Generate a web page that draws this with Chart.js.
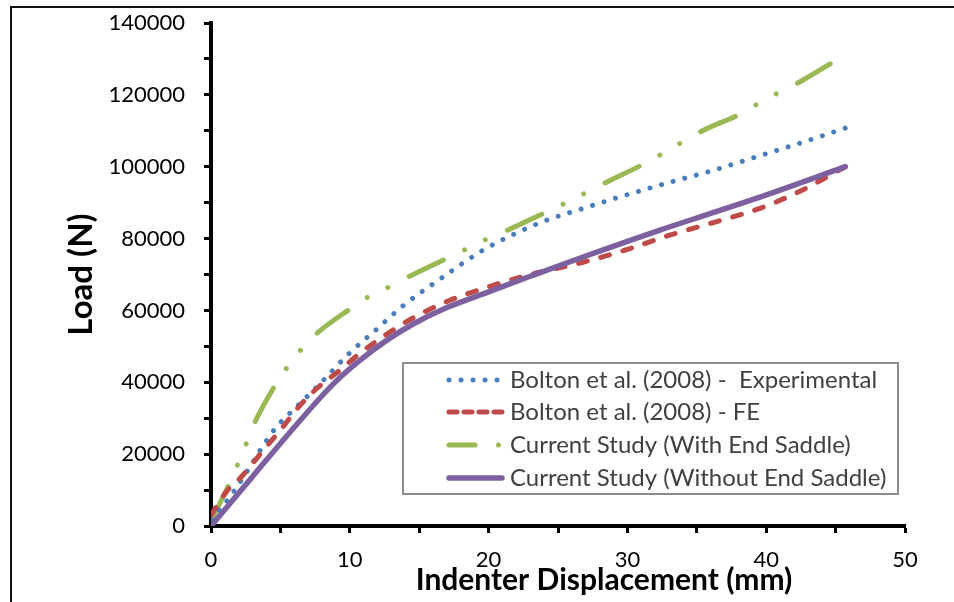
<!DOCTYPE html>
<html>
<head>
<meta charset="utf-8">
<script src="https://cdn.jsdelivr.net/npm/chart.js@4.4.0/dist/chart.umd.min.js"></script>
<style>
  html, body { margin: 0; padding: 0; background: #fff; }
  #wrap { width: 954px; height: 602px; }
</style>
</head>
<body>
<div id="wrap"><canvas id="myChart" width="954" height="602"></canvas></div>
<script>
// Series (x = mm, y = N)
var seriesNames = [
    "Bolton et al. (2008) -  Experimental",
    "Bolton et al. (2008) - FE",
    "Current Study (With End Saddle)",
    "Current Study (Without End Saddle)"
];

var expX = [0, 0.9, 1.9, 2.8, 3.7, 4.7, 6.2, 7.7, 10, 12, 13.8, 16.6, 19.4, 21.7, 24.1, 26.5, 28.7, 32.9, 36.2, 39.5, 42.7, 45.9];
var expY = [2000, 5800, 11100, 16400, 22000, 27500, 33300, 39000, 48200, 55000, 61200, 69000, 76300, 81000, 85000, 88000, 90700, 95500, 99000, 103000, 106900, 111000];

var feX = [0, 1.2, 2.1, 3.5, 5.1, 6.4, 7.6, 9.3, 10.7, 12.7, 14.6, 17, 20.1, 23, 26.6, 30, 33.1, 36.5, 39.6, 42.5, 45.7];
var feY = [3000, 10000, 13300, 19800, 27200, 33500, 38200, 43400, 48000, 53500, 58000, 62500, 66700, 70000, 73200, 77000, 81000, 84800, 88500, 93300, 100000];

var saddleX = [0, 1.2, 2.5, 3.1, 4.5, 5.4, 6.4, 7.6, 9.9, 11.3, 12.8, 14.2, 16.9, 18.4, 19.9, 21.4, 24, 25.6, 28.5, 31.3, 32.6, 35.4, 38.3, 39.6, 42.6, 45.2];
var saddleY = [1500, 10800, 22500, 28400, 38400, 43700, 48700, 53500, 60100, 63700, 66500, 69300, 74300, 77100, 79900, 82400, 87100, 90000, 95700, 101000, 103800, 110000, 115000, 118000, 124000, 130000];

var noSaddleX = [0, 3, 6, 8.8, 10.7, 12.7, 14.6, 17, 20.1, 23, 26.6, 32.3, 36, 39.6, 45.7];
var noSaddleY = [0, 13800, 27500, 39500, 46000, 51800, 56300, 60800, 65300, 69500, 74600, 82300, 87000, 91600, 100000];

var xTickValues = [0, 10, 20, 30, 40, 50];
var yTickValues = [0, 20000, 40000, 60000, 80000, 100000, 120000, 140000];

function toPoints(xs, ys) {
    var pts = [];
    for (var i = 0; i < xs.length; i++) {
        pts.push({ x: xs[i], y: ys[i] });
    }
    return pts;
}

var FONT = "Lato, 'Open Sans', 'Liberation Sans', sans-serif";

// left and top frame lines of the original figure
var framePlugin = {
    id: "frame",
    beforeDraw: function(chart) {
        var c = chart.ctx;
        c.save();
        c.fillStyle = "#fff";
        c.fillRect(0, 0, chart.width, chart.height);
        c.strokeStyle = "#111";
        c.lineWidth = 2;
        c.beginPath();
        c.moveTo(11, chart.height);
        c.lineTo(11, 7);
        c.lineTo(chart.width, 7);
        c.stroke();
        c.restore();
    }
};

// x axis title sits off-centre in the original, so it is drawn here
var xTitlePlugin = {
    id: "xTitle",
    afterDraw: function(chart) {
        var c = chart.ctx;
        c.save();
        c.font = "bold 30px " + FONT;
        c.fillStyle = "#000";
        c.textAlign = "center";
        c.textBaseline = "middle";
        c.fillText("Indenter Displacement (mm)", 604, 580);
        c.restore();
    }
};

// boxed legend inside the plot, with line samples
var legendPlugin = {
    id: "boxLegend",
    afterDatasetsDraw: function(chart) {
        var c = chart.ctx;
        var bx = 403, by = 363, bw = 495, bh = 131;
        c.save();
        c.fillStyle = "#fff";
        c.fillRect(bx, by, bw, bh);
        c.strokeStyle = "#8c8c8c";
        c.lineWidth = 2;
        c.strokeRect(bx, by, bw, bh);

        var rows = [380, 412, 445, 478];
        chart.data.datasets.forEach(function(ds, i) {
            var y = rows[i];
            c.save();
            c.strokeStyle = ds.borderColor;
            c.lineWidth = ds.borderWidth;
            c.lineCap = ds.borderCapStyle || "butt";
            c.setLineDash(ds.legendDash || ds.borderDash || []);
            c.lineDashOffset = ds.legendDashOffset || 0;
            c.beginPath();
            c.moveTo(449, y);
            c.lineTo(502, y);
            c.stroke();
            c.restore();

            c.font = "24px " + FONT;
            c.fillStyle = "#404040";
            c.textAlign = "left";
            c.textBaseline = "middle";
            c.fillText(ds.label, 510, y);
        });
        c.restore();
    }
};

var ctx = document.getElementById("myChart").getContext("2d");
var chart = new Chart(ctx, {
    type: "scatter",
    data: {
        datasets: [{
            label: seriesNames[0],
            data: toPoints(expX, expY),
            borderColor: "#4a7ebb",
            borderWidth: 5,
            borderDash: [0.01, 12],
            borderCapStyle: "round",
            order: 2
        }, {
            label: seriesNames[1],
            data: toPoints(feX, feY),
            borderColor: "#be4b48",
            borderWidth: 5,
            borderDash: [9, 14],
            legendDash: [8, 7],
            borderCapStyle: "round",
            order: 1
        }, {
            label: seriesNames[2],
            data: toPoints(saddleX, saddleY),
            borderColor: "#98b954",
            borderWidth: 5,
            borderDash: [38, 23.5, 0.01, 23, 0.01, 24],
            legendDashOffset: 12,
            borderCapStyle: "round",
            order: 3
        }, {
            label: seriesNames[3],
            data: toPoints(noSaddleX, noSaddleY),
            borderColor: "#7d60a0",
            borderWidth: 5.5,
            borderCapStyle: "round",
            order: 0
        }]
    },
    options: {
        responsive: false,
        animation: false,
        showLine: true,
        elements: {
            point: { radius: 0, hoverRadius: 0 },
            line: { cubicInterpolationMode: "monotone", fill: false }
        },
        layout: { padding: { left: 0, top: 23, right: 49, bottom: 0 } },
        plugins: {
            legend: { display: false },
            tooltip: { enabled: false }
        },
        scales: {
            x: {
                type: "linear",
                min: 0,
                max: 50,
                afterFit: function(scale) { scale.height = 76; },
                border: { display: true, color: "#000", width: 4 },
                grid: { display: true, drawOnChartArea: false, drawTicks: true, tickLength: 7, tickWidth: 3, tickColor: "#000" },
                ticks: {
                    stepSize: 5,
                    autoSkip: false,
                    maxRotation: 0,
                    padding: 14,
                    color: "#000",
                    font: { family: FONT, size: 22 },
                    callback: function(v) { return xTickValues.indexOf(v) >= 0 ? String(v) : ""; }
                },
                title: { display: false }
            },
            y: {
                type: "linear",
                min: 0,
                max: 140000,
                afterFit: function(scale) {
                    scale.width = 211;
                    scale.paddingTop = 0;
                    scale.paddingBottom = 0;
                },
                border: { display: true, color: "#000", width: 4 },
                grid: { display: true, drawOnChartArea: false, drawTicks: true, tickLength: 7, tickWidth: 3, tickColor: "#000" },
                ticks: {
                    stepSize: 10000,
                    autoSkip: false,
                    padding: 19,
                    color: "#000",
                    font: { family: FONT, size: 22 },
                    callback: function(v) { return yTickValues.indexOf(v) >= 0 ? String(v) : ""; }
                },
                title: {
                    display: true,
                    text: "Load (N)",
                    color: "#000",
                    font: { family: FONT, size: 33, weight: "bold" },
                    padding: { top: 62, bottom: 0 }
                }
            }
        }
    },
    plugins: [framePlugin, legendPlugin, xTitlePlugin]
});
</script>
</body>
</html>
